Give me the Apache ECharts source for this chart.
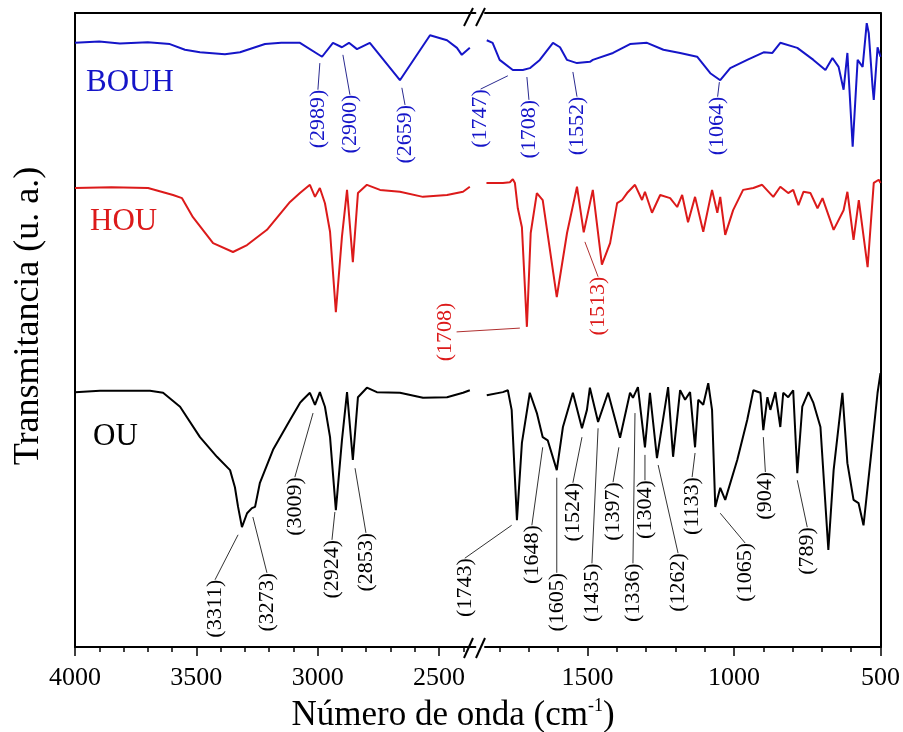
<!DOCTYPE html>
<html>
<head>
<meta charset="utf-8">
<title>FTIR OU / HOU / BOUH</title>
<script src="https://cdn.jsdelivr.net/npm/echarts@6.0.0/dist/echarts.min.js"></script>
<style>
  html, body { margin: 0; padding: 0; background: #fff; }
  #chart { width: 903px; height: 732px; }
</style>
</head>
<body>
<div id="chart"></div>
<script>
// wavenumber in cm-1, transmittance in arbitrary units (0..100 = plot height)
// left part of the broken axis: 4000 -> 2350, right part: 1850 -> 500
var bouhWaveL = [4000, 3900, 3815, 3700, 3609, 3547, 3485, 3382, 3320, 3217, 3150, 3073, 2982, 2937, 2900, 2871, 2838, 2785, 2661, 2537, 2467, 2426, 2406, 2373];
var bouhTransL = [95.3, 95.5, 95.2, 95.4, 95.1, 94.2, 93.8, 93.5, 93.8, 95.1, 95.3, 95.3, 93.1, 95.3, 94.6, 95.3, 94.3, 95.3, 89.4, 96.5, 95.7, 94.5, 93.4, 94.5];
var bouhWaveR = [1844, 1824, 1800, 1755, 1721, 1697, 1663, 1618, 1594, 1570, 1536, 1492, 1482, 1413, 1355, 1297, 1241, 1184, 1126, 1081, 1047, 1013, 955, 899, 869, 842, 784, 729, 688, 664, 643, 626, 613, 595, 578, 561, 547, 540, 527, 523, 510, 500];
var bouhTransR = [95.7, 95.3, 92.6, 91.0, 91.0, 91.3, 92.6, 95.3, 94.6, 92.6, 92.1, 92.3, 92.6, 93.7, 95.1, 95.3, 94.2, 93.7, 93.1, 90.5, 89.4, 91.3, 92.6, 93.8, 93.7, 95.3, 94.5, 92.6, 91.0, 92.9, 91.5, 87.9, 93.7, 78.9, 92.6, 91.5, 98.4, 96.8, 88.3, 86.3, 94.6, 93.1];

var houWaveL = [4000, 3850, 3699, 3596, 3559, 3514, 3431, 3349, 3291, 3209, 3114, 3073, 3032, 3011, 2991, 2970, 2949, 2925, 2900, 2879, 2855, 2834, 2797, 2743, 2661, 2566, 2467, 2401, 2373];
var houTransL = [72.4, 72.5, 72.4, 71.3, 70.8, 67.8, 63.7, 62.3, 63.4, 65.8, 70.2, 71.6, 72.9, 71.0, 72.4, 70.0, 65.5, 52.8, 64.7, 72.1, 60.7, 71.6, 72.9, 72.1, 71.8, 71.0, 71.3, 71.8, 72.6];
var houWaveR = [1845, 1789, 1765, 1755, 1748, 1738, 1724, 1707, 1694, 1673, 1653, 1605, 1570, 1536, 1513, 1482, 1451, 1423, 1399, 1382, 1365, 1338, 1314, 1304, 1280, 1252, 1218, 1194, 1177, 1157, 1133, 1105, 1075, 1057, 1047, 1030, 1003, 969, 934, 904, 866, 842, 815, 798, 780, 763, 739, 715, 698, 660, 626, 613, 592, 574, 544, 523, 506, 500];
var houTransR = [73.2, 73.2, 73.3, 73.8, 73.2, 69.2, 66.2, 50.5, 65.3, 71.6, 70.5, 55.2, 65.3, 72.6, 65.4, 72.1, 60.3, 63.7, 70.0, 70.5, 71.6, 72.9, 70.5, 71.8, 68.5, 71.3, 70.8, 69.4, 71.3, 67.0, 71.0, 65.5, 72.1, 68.5, 71.0, 65.0, 68.9, 72.1, 72.4, 72.9, 71.0, 72.6, 71.6, 72.1, 69.7, 71.8, 71.6, 69.2, 70.8, 65.8, 68.9, 71.8, 64.2, 70.5, 59.9, 73.2, 73.7, 73.2];

var ouWaveL = [4000, 3897, 3691, 3637, 3567, 3485, 3415, 3361, 3341, 3328, 3312, 3291, 3271, 3258, 3238, 3184, 3114, 3073, 3061, 3032, 3011, 2991, 2970, 2949, 2925, 2900, 2879, 2855, 2834, 2797, 2756, 2661, 2566, 2467, 2401, 2373];
var ouTransL = [40.2, 40.4, 40.4, 40.1, 37.9, 33.1, 30.0, 27.9, 25.2, 22.1, 18.9, 21.1, 21.9, 22.1, 25.9, 31.1, 35.8, 38.5, 39.0, 40.1, 38.2, 40.2, 37.9, 33.1, 21.6, 32.6, 40.2, 29.5, 39.4, 40.9, 40.2, 40.1, 39.3, 39.4, 40.1, 40.5];
var ouWaveR = [1844, 1789, 1772, 1759, 1741, 1724, 1697, 1673, 1653, 1636, 1605, 1584, 1550, 1519, 1502, 1492, 1464, 1430, 1389, 1355, 1345, 1328, 1304, 1287, 1263, 1225, 1208, 1184, 1167, 1150, 1133, 1122, 1105, 1088, 1075, 1064, 1047, 1030, 989, 955, 934, 910, 900, 886, 876, 859, 842, 832, 815, 798, 784, 767, 746, 729, 705, 678, 660, 630, 613, 592, 575, 558, 534, 510, 500];
var ouTransR = [39.7, 40.2, 40.5, 37.4, 20.0, 32.2, 40.1, 36.9, 33.1, 32.6, 27.9, 34.7, 40.1, 34.5, 37.4, 40.9, 35.5, 40.1, 33.0, 40.1, 39.3, 41.0, 31.5, 40.1, 29.8, 41.0, 30.0, 40.5, 39.0, 40.2, 31.5, 39.0, 38.2, 41.6, 37.4, 22.1, 25.1, 23.2, 29.5, 35.8, 40.5, 40.1, 34.2, 39.4, 37.4, 40.2, 34.7, 40.1, 39.4, 40.5, 27.4, 37.9, 40.2, 38.5, 34.7, 15.3, 27.9, 40.1, 29.0, 23.2, 22.7, 19.2, 29.5, 40.1, 43.2];

// peak labels: text, leader start (wave, T), label anchor (wave, T), placement
var bouhNotesL = [['(2989)', 2991, 92.1, 2999, 87.9], ['(2900)', 2896, 93.4, 2867, 87.1], ['(2659)', 2653, 88.2, 2640, 85.5]];
var bouhNotesR = [['(1747)', 1772, 90.1, 1865, 88.0], ['(1708)', 1707, 89.9, 1700, 86.3], ['(1552)', 1550, 90.7, 1536, 86.8], ['(1064)', 1050, 89.1, 1056, 86.8]];
var houNotesR = [['(1708)', 1731, 50.3, 1947, 49.7, 'left'], ['(1513)', 1509, 63.9, 1464, 58.4]];
var ouNotesL = [['(3311)', 3328, 17.7, 3423, 10.6], ['(3273)', 3267, 20.5, 3209, 11.7], ['(3009)', 3019, 36.9, 3094, 26.8], ['(2924)', 2929, 21.3, 2941, 16.9], ['(2853)', 2846, 28.2, 2801, 18.0]];
var ouNotesR = [['(1743)', 1759, 19.2, 1919, 14.0], ['(1648)', 1653, 31.5, 1690, 19.2], ['(1605)', 1605, 26.7, 1605, 11.7], ['(1524)', 1519, 33.1, 1550, 25.9],
  ['(1435)', 1464, 34.5, 1485, 13.2], ['(1397)', 1393, 31.5, 1413, 26.0], ['(1336)', 1338, 36.9, 1345, 13.2], ['(1304)', 1304, 30.3, 1304, 26.3],
  ['(1262)', 1259, 28.7, 1191, 14.8], ['(1133)', 1133, 30.6, 1143, 26.8], ['(1065)', 1047, 21.1, 962, 16.4], ['(904)', 900, 33.1, 893, 27.6], ['(789)', 784, 26.3, 750, 18.9]];

var majorL = [4000, 3500, 3000, 2500];
var minorL = [3900, 3800, 3700, 3600, 3400, 3300, 3200, 3100, 2900, 2800, 2700, 2600, 2400];
var majorR = [1500, 1000, 500];
var minorR = [1800, 1700, 1600, 1400, 1300, 1200, 1100, 900, 800, 700, 600];

var BLUE = '#1515c8', RED = '#dc1a1a', BLACK = '#000';
var FONT = '"Liberation Serif", "Times New Roman", serif';

function pairs(w, t) {
  return w.map(function (x, i) { return [x, t[i]]; });
}

function spectrum(w, t, color, side) {
  return {
    type: 'line', xAxisIndex: side * 3, yAxisIndex: side,
    data: pairs(w, t), symbol: 'none', smooth: false,
    lineStyle: { color: color, width: 2 }, z: 3
  };
}

function notes(list, color, lineColor, side) {
  return {
    type: 'custom', xAxisIndex: side * 3, yAxisIndex: side, silent: true, z: 4,
    data: list.map(function (n) { return [n[1], n[2], n[3], n[4]]; }),
    renderItem: function (params, api) {
      var a = api.coord([api.value(0), api.value(1)]);
      var b = api.coord([api.value(2), api.value(3)]);
      var n = list[params.dataIndex];
      var left = n[5] === 'left';
      return {
        type: 'group',
        children: [
          { type: 'line', shape: { x1: a[0], y1: a[1], x2: b[0], y2: b[1] },
            style: { stroke: lineColor, lineWidth: 1 } },
          { type: 'text', x: b[0], y: b[1], rotation: Math.PI / 2,
            style: { text: n[0], fill: color, font: '22px ' + FONT,
                     align: left ? 'center' : 'right', verticalAlign: left ? 'bottom' : 'middle' } }
        ]
      };
    }
  };
}

function xAxes(grid, min, max, major, minor) {
  var line = { show: true, lineStyle: { color: '#000', width: 2 } };
  return [
    { gridIndex: grid, type: 'value', min: min, max: max, inverse: true, position: 'bottom',
      axisLine: line, splitLine: { show: false },
      axisTick: { show: true, length: 9, customValues: major, lineStyle: { color: '#000', width: 1.5 } },
      axisLabel: { customValues: major, color: '#000', fontFamily: FONT, fontSize: 26, margin: 18,
                   formatter: function (v) { return String(v); } } },
    { gridIndex: grid, type: 'value', min: min, max: max, inverse: true, position: 'bottom',
      axisLine: { show: false }, splitLine: { show: false }, axisLabel: { show: false },
      axisTick: { show: true, length: 5, customValues: minor, lineStyle: { color: '#000', width: 1.5 } } },
    { gridIndex: grid, type: 'value', min: min, max: max, inverse: true, position: 'top',
      axisLine: line, splitLine: { show: false }, axisLabel: { show: false }, axisTick: { show: false } }
  ];
}

var yBase = {
  type: 'value', min: 0, max: 100,
  axisLine: { show: true, lineStyle: { color: '#000', width: 2 } },
  axisTick: { show: false }, axisLabel: { show: false }, splitLine: { show: false }
};

function slash(x, y1, y2) {
  return { type: 'line', shape: { x1: x, y1: y1, x2: x + 9, y2: y2 },
           style: { stroke: '#000', lineWidth: 2 }, z: 10 };
}

var chart = echarts.init(document.getElementById('chart'));
chart.setOption({
  animation: false,
  backgroundColor: '#fff',
  grid: [
    { left: 75, top: 13, width: 400.4, bottom: 85 },
    { left: 485, right: 22, top: 13, bottom: 85 }
  ],
  xAxis: xAxes(0, 2350, 4000, majorL, minorL).concat(xAxes(1, 500, 1850, majorR, minorR)),
  yAxis: [
    Object.assign({ gridIndex: 0, position: 'left' }, yBase),
    Object.assign({ gridIndex: 1, position: 'right' }, yBase)
  ],
  series: [
    spectrum(bouhWaveL, bouhTransL, BLUE, 0), spectrum(bouhWaveR, bouhTransR, BLUE, 1),
    spectrum(houWaveL, houTransL, RED, 0), spectrum(houWaveR, houTransR, RED, 1),
    spectrum(ouWaveL, ouTransL, BLACK, 0), spectrum(ouWaveR, ouTransR, BLACK, 1),
    notes(bouhNotesL, BLUE, '#2a2a90', 0), notes(bouhNotesR, BLUE, '#2a2a90', 1),
    notes(houNotesR, RED, '#b03030', 1),
    notes(ouNotesL, BLACK, '#333', 0), notes(ouNotesR, BLACK, '#333', 1)
  ],
  graphic: [
    slash(464, 26, 8), slash(476, 26, 8),
    slash(464, 658, 638), slash(476, 658, 638),
    { type: 'text', x: 86, y: 83, style: { text: 'BOUH', fill: BLUE, font: '31px ' + FONT, verticalAlign: 'middle' } },
    { type: 'text', x: 90, y: 222, style: { text: 'HOU', fill: RED, font: '31px ' + FONT, verticalAlign: 'middle' } },
    { type: 'text', x: 93, y: 437, style: { text: 'OU', fill: BLACK, font: '31px ' + FONT, verticalAlign: 'middle' } },
    { type: 'text', x: 29, y: 316, rotation: Math.PI / 2,
      style: { text: 'Transmitancia (u. a.)', fill: '#000', font: '36px ' + FONT, align: 'center', verticalAlign: 'middle' } },
    { type: 'text', x: 453, y: 716,
      style: { text: '{a|Número de onda (cm}{s|-1}{a|)}', align: 'center', verticalAlign: 'middle',
               rich: { a: { fontFamily: FONT, fontSize: 35, lineHeight: 38, fill: '#000' },
                       s: { fontFamily: FONT, fontSize: 18, lineHeight: 18, verticalAlign: 'top', fill: '#000' } } } }
  ]
});
</script>
</body>
</html>
